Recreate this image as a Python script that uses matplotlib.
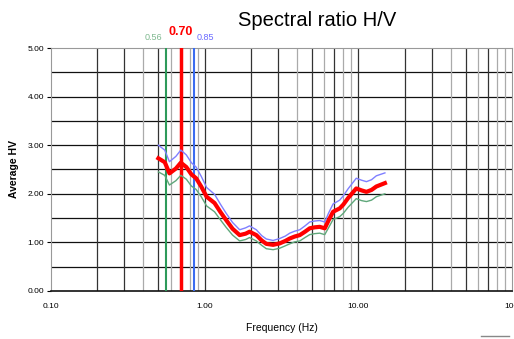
import matplotlib.pyplot as plt
from matplotlib.lines import Line2D

# H/V curve
freq = [0.50, 0.55, 0.59, 0.65, 0.70, 0.76, 0.82, 0.88, 0.95, 1.03, 1.16, 1.27,
        1.38, 1.52, 1.69, 1.85, 1.96, 2.17, 2.35, 2.52, 2.79, 3.08, 3.35, 3.58,
        3.85, 4.16, 4.50, 4.83, 5.20, 5.61, 6.05, 6.40, 6.85, 7.57, 8.00, 8.57,
        9.70, 10.5, 11.3, 12.2, 13.1, 14.9]
hv_mean = [2.73, 2.65, 2.42, 2.52, 2.64, 2.55, 2.40, 2.32, 2.15, 1.94, 1.81, 1.62,
           1.46, 1.28, 1.15, 1.18, 1.22, 1.15, 1.04, 0.97, 0.95, 0.98, 1.03, 1.08,
           1.12, 1.15, 1.22, 1.29, 1.31, 1.32, 1.29, 1.45, 1.63, 1.70, 1.78, 1.91,
           2.11, 2.07, 2.04, 2.08, 2.15, 2.22]
hv_upper = [3.00, 2.90, 2.66, 2.77, 2.90, 2.80, 2.64, 2.55, 2.36, 2.13, 1.99, 1.78,
            1.60, 1.41, 1.26, 1.30, 1.34, 1.26, 1.14, 1.07, 1.04, 1.08, 1.13, 1.19,
            1.23, 1.26, 1.34, 1.42, 1.44, 1.45, 1.42, 1.60, 1.79, 1.87, 1.96, 2.10,
            2.32, 2.28, 2.25, 2.29, 2.37, 2.43]
hv_lower = [2.45, 2.38, 2.18, 2.27, 2.38, 2.30, 2.16, 2.09, 1.94, 1.75, 1.63, 1.46,
            1.31, 1.15, 1.03, 1.06, 1.10, 1.03, 0.94, 0.87, 0.85, 0.88, 0.93, 0.97,
            1.01, 1.03, 1.10, 1.16, 1.18, 1.19, 1.16, 1.30, 1.47, 1.53, 1.60, 1.72,
            1.90, 1.86, 1.84, 1.87, 1.94, 2.00]

# peak frequency and its bounds
f0_low, f0, f0_high = 0.56, 0.70, 0.85

x_ticks = [0.1, 1, 10, 100]
x_ticklabels = ['0.10', '1.00', '10.00', '100']
y_ticks = [0, 1, 2, 3, 4, 5]
y_ticklabels = ['0.00', '1.00', '2.00', '3.00', '4.00', '5.00']

sans = ['Liberation Sans', 'DejaVu Sans']

fig = plt.figure(figsize=(5.14, 3.39), dpi=100)
ax = fig.add_axes([0.0992, 0.1416, 0.8968, 0.7168])

ax.set_xscale('log')
ax.set_xlim(0.1, 100)
ax.set_ylim(0, 5)

# grid: horizontal every 0.5, vertical at every decade step
for y in [0.5, 1, 1.5, 2, 2.5, 3, 3.5, 4, 4.5]:
    ax.axhline(y, color='#111111', lw=0.9, zorder=1)
dark_steps = [2, 3, 5, 7]
for dec in [0.1, 1, 10]:
    for k in range(1, 10):
        xv = dec * k
        if xv <= 0.1:
            continue
        c = '#333333' if (k == 1 or k in dark_steps) else '#aaaaaa'
        ax.axvline(xv, color=c, lw=0.9, zorder=1)

# f0 markers
ax.axvline(f0_low, color='#2e9a5a', lw=1.5, zorder=3)
ax.axvline(f0, color='#ff0000', lw=2.5, zorder=3)
ax.axvline(f0_high, color='#3a6cf0', lw=1.5, zorder=3)

ax.plot(freq, hv_upper, color='#7f7fff', lw=1.0, zorder=4)
ax.plot(freq, hv_lower, color='#5fa77a', lw=1.0, zorder=4)
ax.plot(freq, hv_mean, color='#ff0000', lw=3.0, zorder=5)

ax.text(f0_low * 0.95, 5.12, '%.2f' % f0_low, color='#7fb98f', fontsize=6.5,
        family=sans, ha='right', va='bottom')
ax.text(f0, 5.2, '%.2f' % f0, color='#ff0000', fontsize=9, fontweight='bold',
        family=sans, ha='center', va='bottom')
ax.text(f0_high * 1.05, 5.12, '%.2f' % f0_high, color='#6a6aff', fontsize=6.5,
        family=sans, ha='left', va='bottom')

ax.set_xticks(x_ticks)
ax.set_xticklabels(x_ticklabels, family=sans, fontsize=6)
ax.xaxis.set_minor_locator(plt.NullLocator())
ax.set_yticks(y_ticks)
ax.set_yticklabels(y_ticklabels, family=sans, fontsize=6)
ax.tick_params(axis='x', length=0, pad=9)
ax.tick_params(axis='y', length=3, width=0.8, pad=2)

for s in ['top', 'left', 'right']:
    ax.spines[s].set_color('#999999')
ax.spines['bottom'].set_color('#111111')
ax.spines['bottom'].set_linewidth(1.2)

ax.set_xlabel('Frequency (Hz)', family=sans, fontsize=7.5, labelpad=9)
ax.set_ylabel('Average HV', family=sans, fontsize=7.5, fontweight='bold', labelpad=6)

fig.text(0.617, 0.94, 'Spectral ratio H/V', fontsize=14.5, ha='center', va='center',
         family=sans)

fig.add_artist(Line2D([0.935, 0.99], [0.008, 0.008], color='#888888', lw=1.0))

fig.savefig('out.png', dpi=100)
